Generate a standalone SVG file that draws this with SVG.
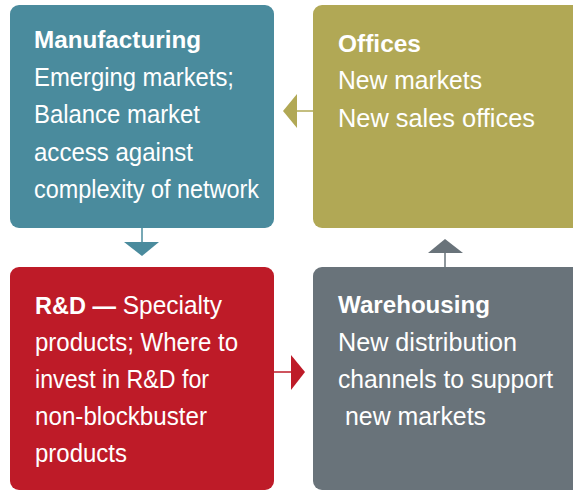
<svg xmlns="http://www.w3.org/2000/svg" width="573" height="491" viewBox="0 0 573 491">
<style>
text{font-family:"Liberation Sans",Arial,sans-serif;font-size:25px;fill:#ffffff}
.b{font-weight:bold;font-size:24px}
.o{font-size:26px}
</style>
<rect width="573" height="491" fill="#ffffff"/>
<g id="connectors">
<line x1="313" y1="111" x2="296" y2="111" stroke="#b1a855" stroke-width="1.5"/>
<polygon points="297,94 297,128 283,111" fill="#b1a855"/>
<line x1="142" y1="228" x2="142" y2="243" stroke="#4a8b9d" stroke-width="1.5"/>
<polygon points="124,242 159,242 142,256" fill="#4a8b9d"/>
<line x1="274" y1="372" x2="292" y2="372" stroke="#be1b28" stroke-width="1.5"/>
<polygon points="291,355 291,390 305,372" fill="#be1b28"/>
<line x1="445" y1="267" x2="445" y2="252" stroke="#69737a" stroke-width="1.5"/>
<polygon points="428,253 463,253 445,239" fill="#69737a"/>
</g>
<g id="manufacturing">
<rect x="10" y="5" width="264" height="223" rx="9" fill="#4a8b9d"/>
<text x="34" y="48" class="b" textLength="167" lengthAdjust="spacingAndGlyphs">Manufacturing</text>
<text x="34" y="86" textLength="200" lengthAdjust="spacingAndGlyphs">Emerging markets;</text>
<text x="34" y="123" textLength="166" lengthAdjust="spacingAndGlyphs">Balance market</text>
<text x="34" y="161" textLength="159" lengthAdjust="spacingAndGlyphs">access against</text>
<text x="34" y="198" textLength="225" lengthAdjust="spacingAndGlyphs">complexity of network</text>
</g>
<g id="offices">
<rect x="313" y="5" width="270" height="223" rx="9" fill="#b1a855"/>
<text x="338" y="52" class="b" textLength="83" lengthAdjust="spacingAndGlyphs">Offices</text>
<text x="338" y="89" class="o" textLength="144" lengthAdjust="spacingAndGlyphs">New markets</text>
<text x="338" y="127" class="o" textLength="197" lengthAdjust="spacingAndGlyphs">New sales offices</text>
</g>
<g id="rnd">
<rect x="10" y="267" width="264" height="223" rx="9" fill="#be1b28"/>
<text x="35" y="314" textLength="187" lengthAdjust="spacingAndGlyphs"><tspan class="b">R&amp;D —</tspan> Specialty</text>
<text x="35" y="351" textLength="203" lengthAdjust="spacingAndGlyphs">products; Where to</text>
<text x="35" y="388" textLength="174" lengthAdjust="spacingAndGlyphs">invest in R&amp;D for</text>
<text x="35" y="425" textLength="172" lengthAdjust="spacingAndGlyphs">non-blockbuster</text>
<text x="35" y="462" textLength="92" lengthAdjust="spacingAndGlyphs">products</text>
</g>
<g id="warehousing">
<rect x="313" y="267" width="270" height="223" rx="9" fill="#69737a"/>
<text x="338" y="313" class="b" textLength="152" lengthAdjust="spacingAndGlyphs">Warehousing</text>
<text x="338" y="351" textLength="179" lengthAdjust="spacingAndGlyphs">New distribution</text>
<text x="338" y="388" textLength="215" lengthAdjust="spacingAndGlyphs">channels to support</text>
<text x="345" y="425" textLength="141" lengthAdjust="spacingAndGlyphs">new markets</text>
</g>
</svg>
